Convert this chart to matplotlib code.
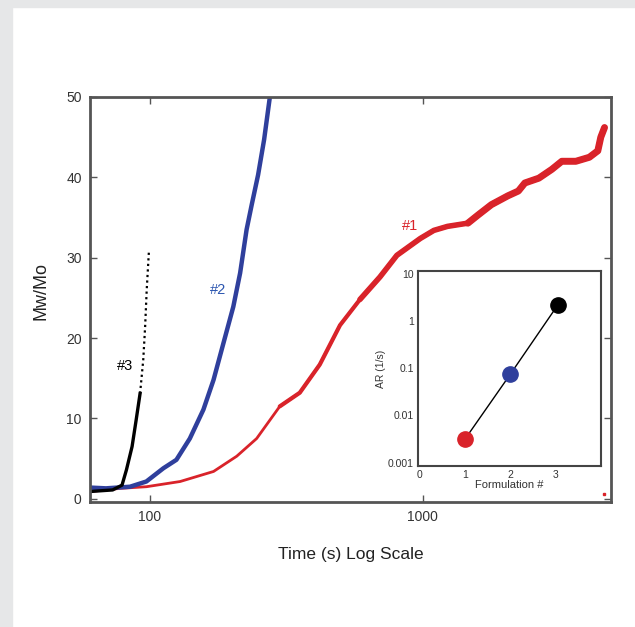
import matplotlib
matplotlib.use("Agg")
import matplotlib.pyplot as plt
from matplotlib.patches import Rectangle

plt.rcParams['font.family'] = ['Liberation Sans', 'DejaVu Sans']

# ---- data ----
t1 = [60, 78, 97, 129, 171, 208, 246, 299, 354, 419, 497, 588, 696, 803, 979, 1097,
      1231, 1462, 1591, 1782, 2048, 2238, 2364, 2660, 2969, 3229, 3635, 4073, 4375, 4487, 4630]
m1 = [0.9, 1.3, 1.5, 2.15, 3.4, 5.3, 7.5, 11.5, 13.2, 16.7, 21.6, 24.8, 27.6, 30.3, 32.4, 33.4,
      33.9, 34.3, 35.3, 36.6, 37.7, 38.3, 39.3, 39.9, 41.0, 42.0, 42.0, 42.5, 43.3, 45.0, 46.2]
stray_t = [4600]
stray_m = [0.6]

t2 = [60, 69, 84.5, 97, 112, 125, 140, 157, 171, 186, 202, 214, 226, 236, 249, 262, 275]
m2 = [1.4, 1.3, 1.5, 2.15, 3.8, 4.85, 7.5, 11.1, 14.8, 19.4, 23.9, 28.1, 33.5, 36.6, 40.3, 44.7, 50]

t3 = [60, 73, 79, 82, 86, 89, 92, 94.5, 96, 97.3, 99.2]
m3 = [0.9, 1.1, 1.7, 3.6, 6.5, 9.8, 13.1, 17.3, 21.4, 26, 31]

form = [1, 2, 3.05]
ar = [0.0031, 0.074, 2.2]
form_colors = ['#d9232a', '#2f3f9c', '#000000']

labels = ['#1', '#2', '#3']
label_t = [896, 177, 81]
label_m = [34, 26, 16.5]

RED = '#d9232a'
BLUE = '#2f3f9c'

fig = plt.figure(figsize=(6.35, 6.27), dpi=100)
fig.patch.set_facecolor('white')
fig.patches.append(Rectangle((0, 1 - 7 / 627), 1, 7 / 627, transform=fig.transFigure,
                             color='#e6e7e8', zorder=0))
fig.patches.append(Rectangle((0, 0), 12 / 635, 1, transform=fig.transFigure,
                             color='#e6e7e8', zorder=0))

ax = fig.add_axes([90 / 635, 1 - 502 / 627, 521 / 635, 405 / 627])
ax.set_xscale('log')
kw = dict(solid_capstyle='round', solid_joinstyle='round')
ax.plot(t1, m1, color=RED, lw=2.0, **kw)
ax.plot(t1[7:], m1[7:], color=RED, lw=3.0, **kw)
ax.plot(t1[11:], m1[11:], color=RED, lw=4.0, **kw)
ax.plot(t1[17:], m1[17:], color=RED, lw=5.0, **kw)
ax.plot(stray_t, stray_m, 's', color=RED, markersize=2)
ax.plot(t2, m2, color=BLUE, lw=3.2, **kw)
ax.plot(t3[:7], m3[:7], color='black', lw=2.4, solid_joinstyle='round')
ax.plot(t3[6:], m3[6:], color='black', lw=1.6, ls=(0, (1, 1.5)))
ax.set_xlim(60.3, 4890)
ax.set_ylim(-0.4, 50)
ax.set_yticks([0, 10, 20, 30, 40, 50])
ax.set_xticks([100, 1000])
ax.set_xticklabels(['100', '1000'])
ax.xaxis.set_minor_locator(matplotlib.ticker.NullLocator())
ax.tick_params(direction='in', length=5, width=1, color='#555555', labelcolor='#333333',
               labelsize=10, top=True, right=True, pad=6)
for s in ax.spines.values():
    s.set_color('#555555')
    s.set_linewidth(2)
ax.set_ylabel('Mw/Mo', fontsize=13, color='#222222')
ax.yaxis.set_label_coords(-0.078, 0.52)
ax.set_xlabel('Time (s) Log Scale', fontsize=12.5, color='#222222', labelpad=16)

for lab, tx, my, c in zip(labels, label_t, label_m, [RED, '#2c56b0', 'black']):
    ax.text(tx, my, lab, color=c, fontsize=10.5, ha='center', va='center')

ins = fig.add_axes([418 / 635, 1 - 466 / 627, 183 / 635, 195 / 627])
ins.set_yscale('log')
ins.plot(form, ar, color='black', lw=1.0, zorder=1)
for f, a, c in zip(form, ar, form_colors):
    ins.plot([f], [a], 'o', color=c, markersize=11, zorder=2)
ins.set_xlim(-0.03, 4.0)
ins.set_ylim(0.00085, 11.5)
ins.set_xticks([0, 1, 2, 3])
ins.set_yticks([0.001, 0.01, 0.1, 1, 10])
ins.set_yticklabels(['0.001', '0.01', '0.1', '1', '10'])
ins.yaxis.set_minor_locator(matplotlib.ticker.NullLocator())
ins.tick_params(length=0, labelsize=7.5, labelcolor='#333333', pad=3)
for s in ins.spines.values():
    s.set_color('#444444')
    s.set_linewidth(1.5)
ins.set_xlabel('Formulation #', fontsize=8, color='#333333', labelpad=0)
ins.set_ylabel('AR (1/s)', fontsize=7.5, color='#333333', labelpad=1)

fig.savefig('out.png', dpi=100)
